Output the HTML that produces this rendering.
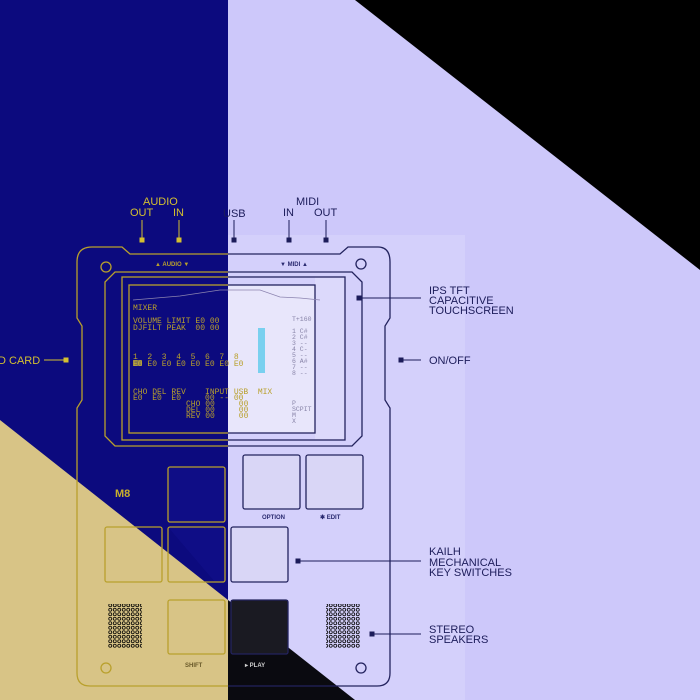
<!DOCTYPE html>
<html><head><meta charset="utf-8"><style>
html,body{margin:0;padding:0;width:700px;height:700px;overflow:hidden;background:#cdc8fa}
svg{display:block}
.m text{font-family:"Liberation Mono",monospace;white-space:pre}
</style></head><body>
<svg width="700" height="700" viewBox="0 0 700 700" xmlns="http://www.w3.org/2000/svg" font-family="Liberation Sans, sans-serif">
<defs>
<clipPath id="L"><rect x="0" y="0" width="228" height="700"/></clipPath>
<clipPath id="R"><rect x="228" y="0" width="472" height="700"/></clipPath>
<g id="dev" fill="none" stroke-width="1.3">
  <path d="M92,247 L122,247 L130,254 L340,254 L348,247 L378,247 Q390,247 390,262 L390,318 L385,326 L385,400 L390,408 L390,673 Q390,686 377,686 L90,686 Q77,686 77,673 L77,408 L82,400 L82,326 L77,318 L77,262 Q77,247 92,247 Z"/>
  <path d="M115,272 L352,272 L362,282 L362,436 L352,446 L115,446 L105,436 L105,282 Z"/>
  <rect x="122" y="277" width="223" height="163"/>
  <rect x="129" y="285" width="186" height="148"/>
  <rect x="168" y="467" width="57" height="55" rx="2"/>
  <rect x="243" y="455" width="57" height="54" rx="2"/>
  <rect x="306" y="455" width="57" height="54" rx="2"/>
  <rect x="105" y="527" width="57" height="55" rx="2"/>
  <rect x="168" y="527" width="57" height="55" rx="2"/>
  <rect x="231" y="527" width="57" height="55" rx="2"/>
  <rect x="168" y="600" width="57" height="54" rx="2"/>
  <rect x="231" y="600" width="57" height="54" rx="2"/>
  <circle cx="106" cy="267" r="5"/><circle cx="361" cy="264" r="5"/>
  <circle cx="106" cy="668" r="5"/><circle cx="361" cy="668" r="5"/>
</g>
<pattern id="dots" width="4.5" height="4.5" patternUnits="userSpaceOnUse"><circle cx="2.25" cy="2.25" r="1.5" fill="none" stroke-width="0.8" stroke="currentColor"/></pattern>
</defs>

<rect x="0" y="0" width="228" height="700" fill="#0c0a7e"/>
<polygon points="0,420 228,600 228,700 0,700" fill="#d8c486"/>
<rect x="228" y="235" width="237" height="465" fill="#d4d0fb"/>
<polygon points="228,600 355,700 228,700" fill="#0a0a10"/>
<polygon points="355,0 700,0 700,270" fill="#000"/>
<rect x="228" y="285" width="87" height="148" fill="#e8e6fb"/>
<rect x="315" y="277" width="30" height="163" fill="#dcd9fb"/>
<g fill="#d9d6f6"><rect x="243" y="455" width="57" height="54"/><rect x="306" y="455" width="57" height="54"/><rect x="231" y="527" width="57" height="55"/></g>
<polygon points="231,600 288,600 288,654 231,654" fill="#1a1a22"/>
<g fill="#0f0d86"><rect x="168" y="467" width="57" height="55"/></g>
<polygon points="168,527 225,527 225,582 215,582" fill="#0f0d86"/>

<g clip-path="url(#L)" stroke="#b9a02c" color="#b9a02c"><use href="#dev"/></g>
<g clip-path="url(#R)" stroke="#23235e" color="#23235e"><use href="#dev"/></g>
<rect x="108" y="604" width="34" height="44" fill="url(#dots)" color="#3a2e10"/>
<rect x="326" y="604" width="34" height="44" fill="url(#dots)" color="#2a2a70"/>

<g class="m" font-size="8" xml:space="preserve">
<g fill="#b9a02c">
<text x="133" y="310">MIXER</text>
<text x="133" y="323">VOLUME LIMIT E0 00</text>
<text x="133" y="330">DJFILT PEAK  00 00</text>
<text x="133" y="359">1  2  3  4  5  6  7  8</text>
<text x="133" y="366">E0 E0 E0 E0 E0 E0 E0 E0</text>
<text x="133" y="394">CHO DEL REV    INPUT USB  MIX</text>
<text x="133" y="400">E0  E0  E0     00 -- 00</text>
<text x="186" y="406">CHO 00     00</text>
<text x="186" y="412">DEL 00     00</text>
<text x="186" y="418">REV 00     00</text>
</g>
<g fill="#8884a8" font-size="6.5">
<text x="292" y="321">T+160</text>
<text x="292" y="333">1 C#</text><text x="292" y="339">2 C#</text><text x="292" y="345">3 --</text><text x="292" y="351">4 C-</text><text x="292" y="357">5 --</text><text x="292" y="363">6 A#</text><text x="292" y="369">7 --</text><text x="292" y="375">8 --</text>
<text x="292" y="405">P</text><text x="292" y="411">SCPIT</text><text x="292" y="417">M</text><text x="292" y="423">X</text>
</g>
</g>
<rect x="258" y="328" width="7" height="45" fill="#5ccbec" opacity="0.8"/>
<polyline points="133,300 180,296 220,290 260,290 280,297 300,298 320,300" fill="none" stroke="#8c84b0" stroke-width="0.7"/>
<rect x="133" y="360" width="9" height="6" fill="#d4c030" opacity="0.6"/>

<text x="155" y="266" font-size="6" font-weight="bold" fill="#b9a02c">▲ AUDIO ▼</text>
<text x="280" y="266" font-size="6" font-weight="bold" fill="#2a2a70">▼  MIDI  ▲</text>
<text x="262" y="519" font-size="6" font-weight="bold" fill="#2a2a70">OPTION</text>
<text x="320" y="519" font-size="6" font-weight="bold" fill="#2a2a70">✱ EDIT</text>
<text x="185" y="667" font-size="6" font-weight="bold" fill="#6a5a2a">SHIFT</text>
<text x="245" y="667" font-size="6" font-weight="bold" fill="#d0d0d0">▸ PLAY</text>
<text x="115" y="497" font-size="11" font-weight="bold" fill="#c8b02c">M8</text>

<g font-size="11" fill="#d4c030">
<text x="143" y="205">AUDIO</text><text x="130" y="216">OUT</text><text x="173" y="216">IN</text>
</g>
<g font-size="11" fill="#1c1c5a">
<text x="223" y="217">USB</text>
<text x="296" y="205">MIDI</text><text x="283" y="216">IN</text><text x="314" y="216">OUT</text>
</g>
<g stroke="#d4c030" fill="#d4c030"><line x1="142" y1="220" x2="142" y2="240"/><rect x="140" y="238" width="4" height="4"/><line x1="179" y1="220" x2="179" y2="240"/><rect x="177" y="238" width="4" height="4"/>
<line x1="44" y1="360" x2="64" y2="360"/><rect x="64" y="358" width="4" height="4"/></g>
<g stroke="#1c1c5a" fill="#1c1c5a"><line x1="234" y1="220" x2="234" y2="240"/><rect x="232" y="238" width="4" height="4"/><line x1="289" y1="220" x2="289" y2="240"/><rect x="287" y="238" width="4" height="4"/><line x1="326" y1="220" x2="326" y2="240"/><rect x="324" y="238" width="4" height="4"/>
<line x1="360" y1="298" x2="421" y2="298"/><rect x="357" y="296" width="4" height="4"/>
<line x1="402" y1="360" x2="421" y2="360"/><rect x="399" y="358" width="4" height="4"/>
<line x1="299" y1="561" x2="421" y2="561"/><rect x="296" y="559" width="4" height="4"/>
<line x1="373" y1="634" x2="421" y2="634"/><rect x="370" y="632" width="4" height="4"/></g>
<text x="-2" y="364" font-size="11" fill="#d4c030">D CARD</text>
<g font-size="11" fill="#1c1c5a">
<text x="429" y="294">IPS TFT</text><text x="429" y="304">CAPACITIVE</text><text x="429" y="314">TOUCHSCREEN</text>
<text x="429" y="364">ON/OFF</text>
<text x="429" y="555">KAILH</text><text x="429" y="566">MECHANICAL</text><text x="429" y="576">KEY SWITCHES</text>
<text x="429" y="633">STEREO</text><text x="429" y="643">SPEAKERS</text>
</g>
</svg>
</body></html>
